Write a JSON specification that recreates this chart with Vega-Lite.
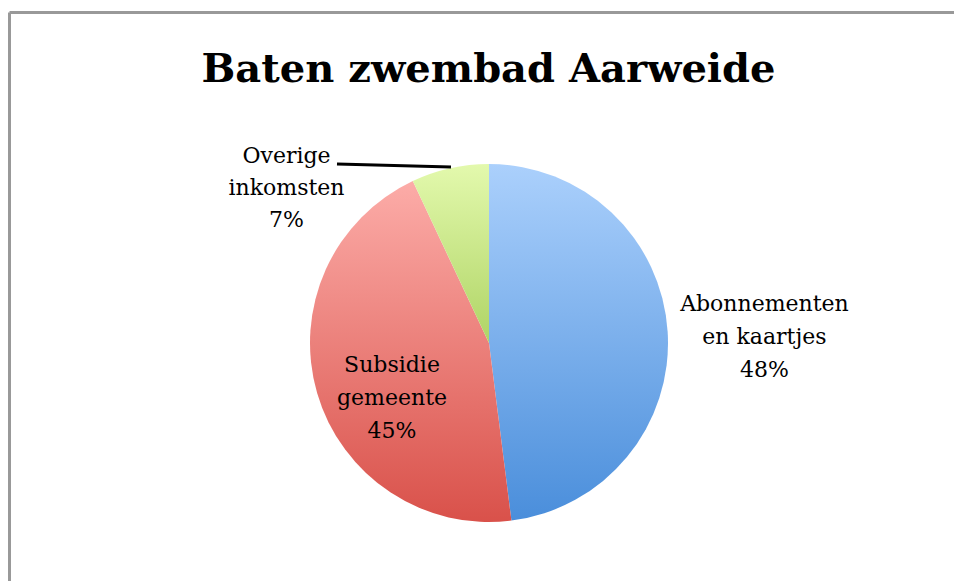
{
  "$schema": "https://vega.github.io/schema/vega-lite/v6.json",
  "width": 945,
  "height": 569,
  "autosize": {"type": "none"},
  "padding": {"left": 9, "top": 12, "right": 0, "bottom": 0},
  "background": "white",
  "config": {"view": {"stroke": null}, "font": "DejaVu Serif"},
  "title": {
    "text": "Baten zwembad Aarweide",
    "font": "DejaVu Serif",
    "fontSize": 40,
    "fontWeight": "bold",
    "color": "#000000",
    "anchor": "middle",
    "frame": "group",
    "offset": -78,
    "dx": 7
  },
  "data": {
    "values": [
      {"categorie": "Abonnementen en kaartjes", "aandeel": 48, "volgorde": 1, "label": "Abonnementen\nen kaartjes\n48%"},
      {"categorie": "Subsidie gemeente", "aandeel": 45, "volgorde": 2, "label": "Subsidie\ngemeente\n45%"},
      {"categorie": "Overige inkomsten", "aandeel": 7, "volgorde": 3, "label": "Overige\ninkomsten\n7%"}
    ]
  },
  "encoding": {
    "x": {
      "datum": 0, "type": "quantitative",
      "scale": {"domain": [-480, 465], "nice": false, "zero": false},
      "axis": {"orient": "top", "domain": true, "domainColor": "#999999", "domainWidth": 3, "ticks": false, "labels": false, "grid": false, "title": null}
    },
    "y": {
      "datum": 0, "type": "quantitative",
      "scale": {"domain": [-238, 331], "nice": false, "zero": false},
      "axis": {"orient": "left", "domain": true, "domainColor": "#999999", "domainWidth": 3, "ticks": false, "labels": false, "grid": false, "title": null}
    },
    "order": {"field": "volgorde", "type": "quantitative"}
  },
  "layer": [
    {
      "mark": {"type": "arc", "outerRadius": 179, "strokeWidth": 0},
      "encoding": {
        "theta": {"field": "aandeel", "type": "quantitative", "stack": true},
        "fill": {
          "condition": [
            {"test": "datum.categorie === 'Abonnementen en kaartjes'", "value": {"gradient": "linear", "x1": 0, "y1": 0, "x2": 0, "y2": 1, "stops": [{"offset": 0, "color": "#abd0fc"}, {"offset": 1, "color": "#4a8edb"}]}},
            {"test": "datum.categorie === 'Subsidie gemeente'", "value": {"gradient": "linear", "x1": 0, "y1": 0, "x2": 0, "y2": 1, "stops": [{"offset": 0, "color": "#fcaca8"}, {"offset": 1, "color": "#d9514a"}]}}
          ],
          "value": {"gradient": "linear", "x1": 0, "y1": 0, "x2": 0, "y2": 1, "stops": [{"offset": 0, "color": "#e3f9ad"}, {"offset": 1, "color": "#afd465"}]}
        }
      }
    },
    {
      "mark": {"type": "text", "radius": 276, "dy": -22, "font": "DejaVu Serif", "fontSize": 22, "lineHeight": 33, "lineBreak": "\n", "align": "center", "baseline": "middle", "color": "#000000"},
      "encoding": {
        "theta": {"field": "aandeel", "type": "quantitative", "stack": true},
        "text": {"condition": {"test": "datum.categorie === 'Abonnementen en kaartjes'", "field": "label"}, "value": ""}
      }
    },
    {
      "mark": {"type": "text", "radius": 101, "dy": -6, "font": "DejaVu Serif", "fontSize": 22, "lineHeight": 33, "lineBreak": "\n", "align": "center", "baseline": "middle", "color": "#000000"},
      "encoding": {
        "theta": {"field": "aandeel", "type": "quantitative", "stack": true},
        "text": {"condition": {"test": "datum.categorie === 'Subsidie gemeente'", "field": "label"}, "value": ""}
      }
    },
    {
      "mark": {"type": "text", "radius": 158, "dx": -168, "dy": -33, "font": "DejaVu Serif", "fontSize": 22, "lineHeight": 32, "lineBreak": "\n", "align": "center", "baseline": "middle", "color": "#000000"},
      "encoding": {
        "theta": {"field": "aandeel", "type": "quantitative", "stack": true},
        "text": {"condition": {"test": "datum.categorie === 'Overige inkomsten'", "field": "label"}, "value": ""}
      }
    },
    {
      "data": {"values": [{"lijn": "Overige inkomsten"}]},
      "mark": {"type": "rule", "color": "#000000", "strokeWidth": 3},
      "encoding": {
        "x": {"datum": -152, "type": "quantitative", "scale": {"domain": [-480, 465], "nice": false, "zero": false}, "axis": {"orient": "top", "domain": true, "domainColor": "#999999", "domainWidth": 3, "ticks": false, "labels": false, "grid": false, "title": null}},
        "y": {"datum": 179, "type": "quantitative", "scale": {"domain": [-238, 331], "nice": false, "zero": false}, "axis": {"orient": "left", "domain": true, "domainColor": "#999999", "domainWidth": 3, "ticks": false, "labels": false, "grid": false, "title": null}},
        "x2": {"datum": -38},
        "y2": {"datum": 176},
        "order": null
      }
    }
  ]
}
